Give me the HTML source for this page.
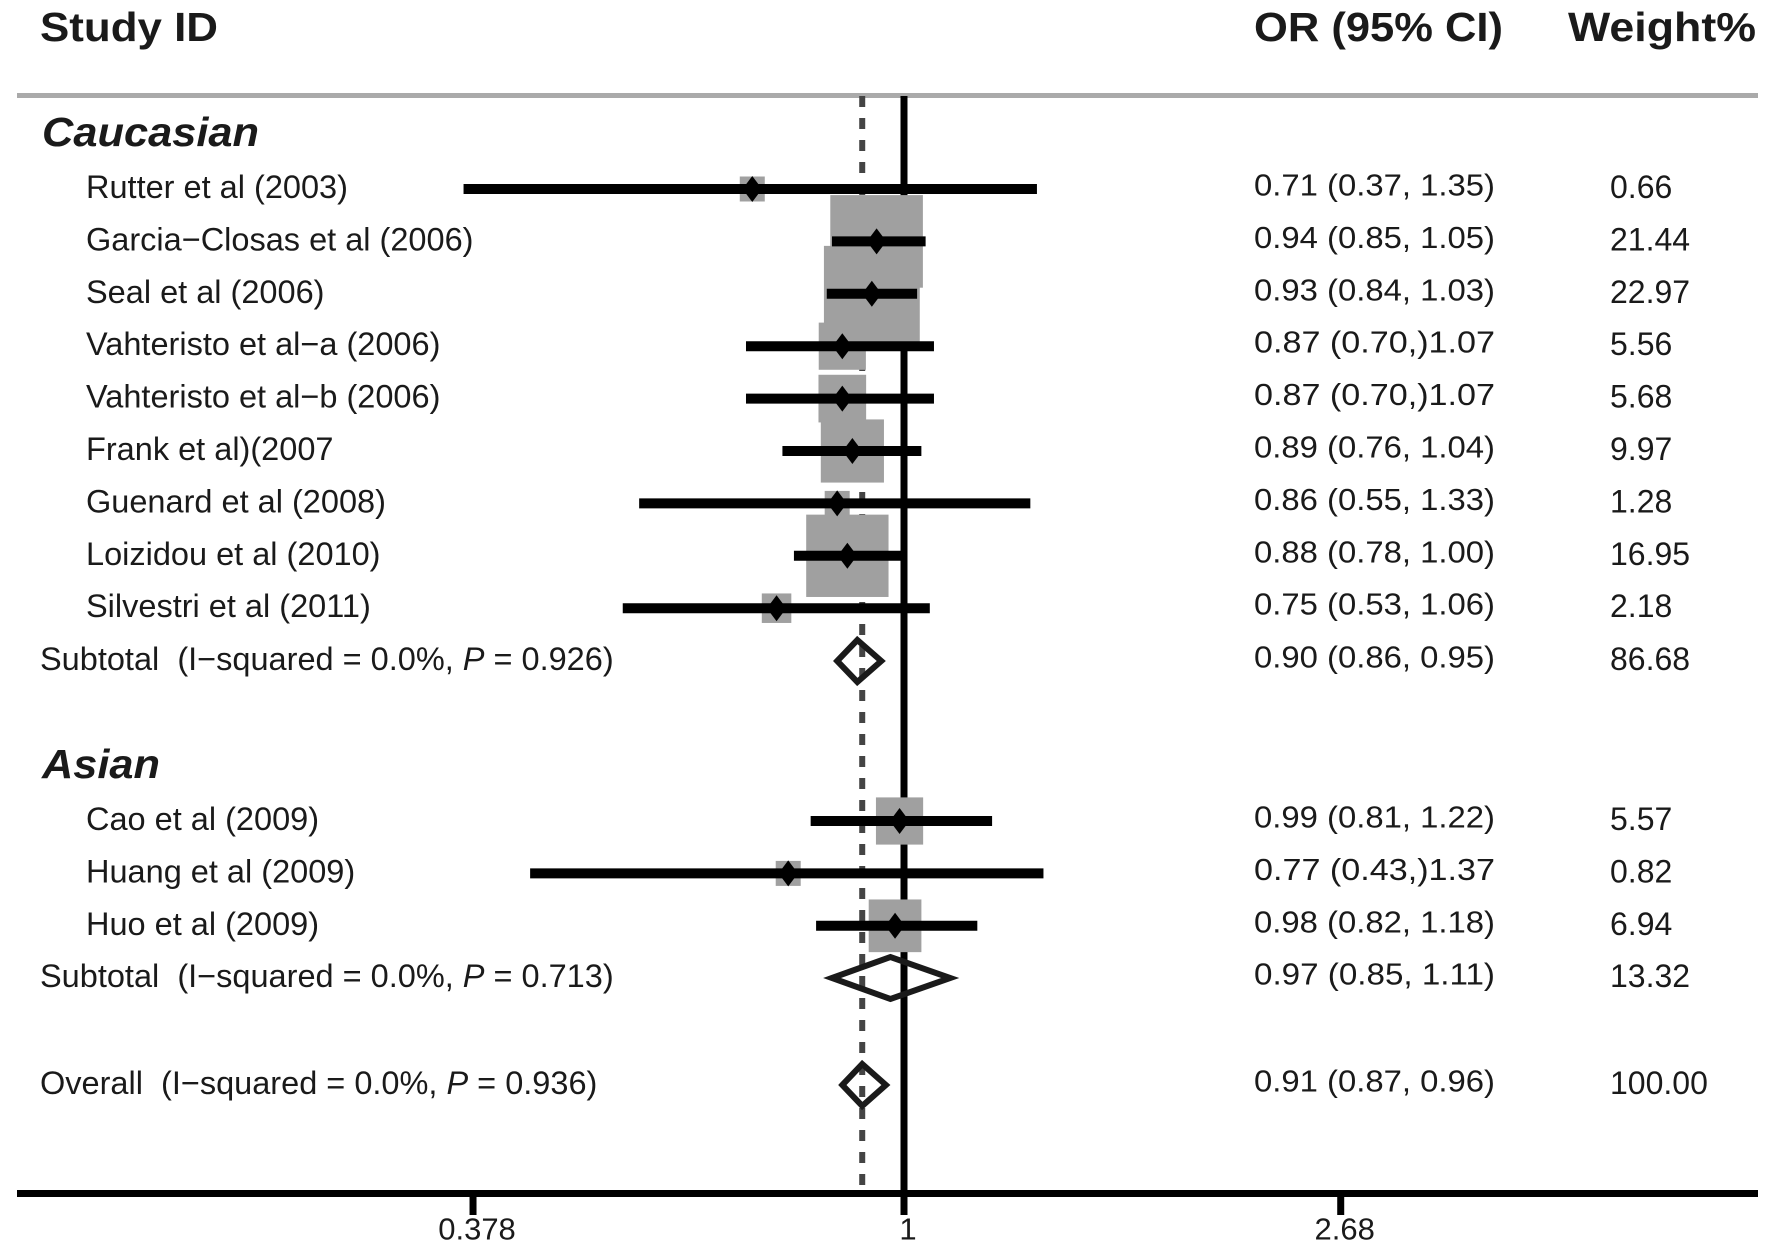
<!DOCTYPE html>
<html><head><meta charset="utf-8"><style>
html,body{margin:0;padding:0;background:#fff}
svg{display:block;font-family:"Liberation Sans",Arial,sans-serif}
</style></head><body>
<svg id="chart" width="1772" height="1247" viewBox="0 0 1772 1247">
<g id="bg"></g>
<g id="marks"></g>
<g id="texts"></g>
</svg>
<script>
const labels = ["Rutter et al (2003)","Garcia\u2212Closas et al (2006)","Seal et al (2006)","Vahteristo et al\u2212a (2006)","Vahteristo et al\u2212b (2006)","Frank et al)(2007","Guenard et al (2008)","Loizidou et al (2010)","Silvestri et al (2011)","Cao et al (2009)","Huang et al (2009)","Huo et al (2009)"];
const orVals = [0.71,0.94,0.93,0.87,0.87,0.89,0.86,0.88,0.75,0.99,0.77,0.98];
const lowVals = [0.37,0.85,0.84,0.70,0.70,0.76,0.55,0.78,0.53,0.81,0.43,0.82];
const highVals = [1.35,1.05,1.03,1.07,1.07,1.04,1.33,1.00,1.06,1.22,1.37,1.18];
const orText = ["0.71 (0.37, 1.35)","0.94 (0.85, 1.05)","0.93 (0.84, 1.03)","0.87 (0.70,)1.07","0.87 (0.70,)1.07","0.89 (0.76, 1.04)","0.86 (0.55, 1.33)","0.88 (0.78, 1.00)","0.75 (0.53, 1.06)","0.99 (0.81, 1.22)","0.77 (0.43,)1.37","0.98 (0.82, 1.18)"];
const weights = [0.66,21.44,22.97,5.56,5.68,9.97,1.28,16.95,2.18,5.57,0.82,6.94];
const rowY = [189,241.4,293.8,346.2,398.6,451,503.4,555.8,608.2,821,873.4,925.8];
const pooledOr = [0.90,0.97,0.91];
const pooledLow = [0.86,0.85,0.87];
const pooledHigh = [0.95,1.11,0.96];
const pooledText = ["0.90 (0.86, 0.95)","0.97 (0.85, 1.11)","0.91 (0.87, 0.96)"];
const pooledWeight = ["86.68","13.32","100.00"];
const pooledY = [661,978,1085];
const pooledLabelPre = ["Subtotal\u00a0\u00a0(I\u2212squared = 0.0%, ","Subtotal\u00a0\u00a0(I\u2212squared = 0.0%, ","Overall\u00a0\u00a0(I\u2212squared = 0.0%, "];
const pooledLabelP = ["0.926)","0.713)","0.936)"];
const tickVals = [0.378,1,2.68];
const tickLabels = ["0.378","1","2.68"];

const X0 = 904, K = 443;
const OR_X = 1254, W_X = 1610;
const x = v => X0 + K*Math.log(v);
const NS = "http://www.w3.org/2000/svg";
function mk(parent, tag, attrs){const e=document.createElementNS(NS,tag);for(const k in attrs)e.setAttribute(k,attrs[k]);document.getElementById(parent).appendChild(e);return e;}
function txt(parent,s,xx,yy,size,extra){const e=mk(parent,'text',Object.assign({x:xx,y:yy,'font-size':size,'dominant-baseline':'central',fill:'#1a1a1a'},extra||{}));e.textContent=s;return e;}

let e;
e=mk('bg','rect',{x:17,y:93,width:1741,height:5,fill:'#aaa'});


e=mk('bg','line',{x1:x(1),y1:96,x2:x(1),y2:1193,stroke:'#000','stroke-width':7});


e=mk('bg','line',{x1:x(pooledOr[2]),y1:96,x2:x(pooledOr[2]),y2:1193,stroke:'#444','stroke-width':6,'stroke-dasharray':'11 11'});


e=mk('bg','rect',{x:17,y:1190,width:1741,height:7,fill:'#000'});


tickVals.forEach((v,i)=>{
  const t=mk('bg','rect',{x:x(v)-3.5,y:1193,width:7,height:22,fill:'#000'});
  
  
  const l=txt('texts',tickLabels[i],x(v)+4,1229,31,{'text-anchor':'middle'});
  
  
});

weights.forEach((w,i)=>{
  const s=Math.max(25,20*Math.sqrt(w));
  const b=mk('marks','rect',{x:x(orVals[i])-s/2,y:rowY[i]-s/2,width:s,height:s,fill:'#a0a0a0'});
  
  
});
orVals.forEach((v,i)=>{
  const l=mk('marks','line',{x1:x(lowVals[i]),y1:rowY[i],x2:x(highVals[i]),y2:rowY[i],stroke:'#000','stroke-width':10});
  
  
  const cx=x(v),cy=rowY[i],r=13;
  const d=mk('marks','polygon',{points:`${cx},${cy-r} ${cx+r*0.75},${cy} ${cx},${cy+r} ${cx-r*0.75},${cy}`,fill:'#000'});
  
  
});
pooledOr.forEach((v,i)=>{
  const cy=pooledY[i],h=21;
  const d=mk('marks','polygon',{points:`${x(pooledLow[i])},${cy} ${x(v)},${cy-h} ${x(pooledHigh[i])},${cy} ${x(v)},${cy+h}`,fill:'none',stroke:'#1a1a1a','stroke-width':6,'stroke-linejoin':'miter'});
  
  
});

e=txt('texts','Study ID',40,27,41,{'font-weight':'bold',textLength:178,lengthAdjust:'spacingAndGlyphs'});


e=txt('texts','OR (95% CI)',OR_X,27,41,{'font-weight':'bold',textLength:249,lengthAdjust:'spacingAndGlyphs'});


e=txt('texts','Weight%',1568,27,41,{'font-weight':'bold',textLength:188,lengthAdjust:'spacingAndGlyphs'});


e=txt('texts','Caucasian',42,132,41,{'font-weight':'bold','font-style':'italic',textLength:217,lengthAdjust:'spacingAndGlyphs'});


e=txt('texts','Asian',42,764,41,{'font-weight':'bold','font-style':'italic',textLength:118,lengthAdjust:'spacingAndGlyphs'});



labels.forEach((s,i)=>{
  const a=txt('texts',s,86,rowY[i]-2,32.5);
  
  
  const b=txt('texts',orText[i],OR_X,rowY[i]-4,31,{textLength:241,lengthAdjust:'spacingAndGlyphs'});
  
  
  const c=txt('texts',weights[i].toFixed(2),W_X,rowY[i]-2,32);
  
  
});
pooledOr.forEach((v,i)=>{
  const a=txt('texts','',40,pooledY[i]-2,32.5);
  
  
  const t1=document.createElementNS(NS,'tspan');t1.textContent=pooledLabelPre[i];a.appendChild(t1);
  const t2=document.createElementNS(NS,'tspan');t2.setAttribute('font-style','italic');t2.textContent='P';a.appendChild(t2);
  const t3=document.createElementNS(NS,'tspan');t3.textContent=' = '+pooledLabelP[i];a.appendChild(t3);
  const b=txt('texts',pooledText[i],OR_X,pooledY[i]-4,31,{textLength:241,lengthAdjust:'spacingAndGlyphs'});
  
  
  const c=txt('texts',pooledWeight[i],W_X,pooledY[i]-2,32);
  
  
});
</script>
</body></html>
